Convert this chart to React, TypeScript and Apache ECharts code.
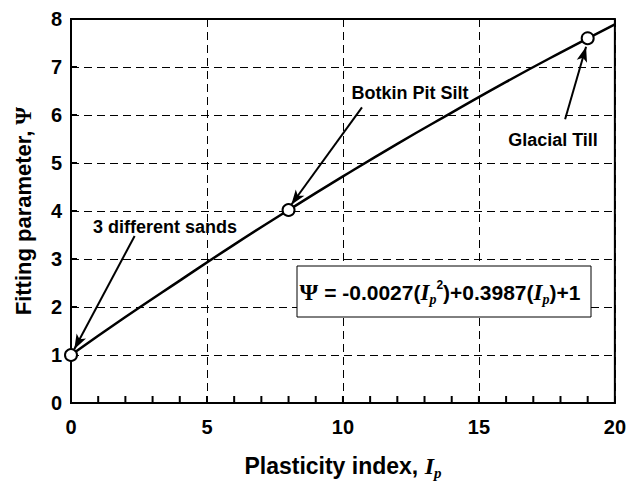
import React, { useEffect, useRef } from "react";
import * as echarts from "echarts";

const curveX = [0, 2, 4, 6, 8, 10, 12, 14, 16, 18, 20];
const curveY = [1.0, 1.79, 2.55, 3.3, 4.02, 4.72, 5.4, 6.05, 6.69, 7.3, 7.89];
const pointX = [0, 8, 19];
const pointY = [1.0, 4.02, 7.6];
const annotations = ["3 different sands", "Botkin Pit Silt", "Glacial Till"];
const arrowFrom = [[2.34, 3.48], [10.7, 6.16], [18.17, 5.91]];
const arrowTo = [[0.12, 1.12], [8.1, 4.13], [18.94, 7.42]];
const xMinorTicks = [1, 2, 3, 4, 5, 6, 7, 8, 9, 10, 11, 12, 13, 14, 15, 16, 17, 18, 19];
const yMajorTicks = [1, 2, 3, 4, 5, 6, 7];

export default function App() {
  const ref = useRef<HTMLDivElement>(null);
  useEffect(() => {
    document.body.style.margin = "0";
    const chart = echarts.init(ref.current!, null, { renderer: "svg" });
    const sans = "'Liberation Sans', Arial, sans-serif";
    const serif = "'Liberation Serif', 'Times New Roman', serif";
    chart.setOption({
      animation: false,
      backgroundColor: "#fff",
      grid: {
        left: 71, right: 12, top: 19, bottom: 80,
        show: true, borderColor: "#000", borderWidth: 2, backgroundColor: "transparent",
      },
      xAxis: {
        type: "value", min: 0, max: 20, interval: 5,
        axisLine: { show: true, lineStyle: { color: "#000", width: 2 } },
        axisTick: { show: false },
        splitLine: { show: true, lineStyle: { color: "#000", type: [8, 5], width: 1 } },
        axisLabel: { color: "#000", fontFamily: sans, fontWeight: "bold", fontSize: 20, margin: 14 },
        name: "{t|Plasticity index, }{i|I}{s|p}",
        nameLocation: "middle",
        nameGap: 48,
        nameTextStyle: {
          rich: {
            t: { fontFamily: sans, fontWeight: "bold", fontSize: 23, color: "#000" },
            i: { fontFamily: serif, fontWeight: "bold", fontStyle: "italic", fontSize: 24, color: "#000" },
            s: { fontFamily: serif, fontWeight: "bold", fontStyle: "italic", fontSize: 15, color: "#000", padding: [14, 0, 0, 0] },
          },
        },
      },
      yAxis: {
        type: "value", min: 0, max: 8, interval: 1,
        axisLine: { show: true, lineStyle: { color: "#000", width: 2 } },
        axisTick: { show: false },
        splitLine: { show: true, lineStyle: { color: "#000", type: [8, 5], width: 1 } },
        axisLabel: { color: "#000", fontFamily: sans, fontWeight: "bold", fontSize: 20, margin: 9 },
        name: "{t|Fitting parameter, }{g|Ψ}",
        nameLocation: "middle",
        nameGap: 36,
        nameTextStyle: {
          rich: {
            t: { fontFamily: sans, fontWeight: "bold", fontSize: 22, color: "#000" },
            g: { fontFamily: serif, fontWeight: "bold", fontSize: 23, color: "#000" },
          },
        },
      },
      series: [
        {
          type: "scatter",
          data: xMinorTicks.map((x) => [x, 0]),
          symbol: "rect",
          symbolSize: [2, 7],
          symbolOffset: [0, -3.5],
          itemStyle: { color: "#000", opacity: 1 },
          clip: false,
          silent: true,
          z: 3,
        },
        {
          type: "scatter",
          data: yMajorTicks.map((y) => [0, y]),
          symbol: "rect",
          symbolSize: [6, 2],
          symbolOffset: [3, 0],
          itemStyle: { color: "#000", opacity: 1 },
          clip: false,
          silent: true,
          z: 3,
        },
        {
          type: "line",
          data: curveX.map((x, i) => [x, curveY[i]]),
          smooth: true,
          showSymbol: false,
          lineStyle: { color: "#000", width: 2.5 },
          z: 2,
          markLine: {
            silent: true,
            symbol: ["none", "arrow"],
            symbolSize: [8, 15],
            label: { show: false },
            lineStyle: { color: "#000", width: 2, type: "solid" },
            data: arrowFrom.map((f, i) => [
              { coord: f },
              { coord: arrowTo[i] },
            ]),
          },
        },
        {
          type: "scatter",
          data: pointX.map((x, i) => [x, pointY[i]]),
          symbol: "circle",
          symbolSize: 12,
          itemStyle: { color: "#fff", borderColor: "#000", borderWidth: 2, opacity: 1 },
          z: 5,
        },
      ],
      graphic: [
        {
          type: "text", x: 165, y: 227,
          style: { text: annotations[0], fontFamily: sans, fontWeight: "bold", fontSize: 18, fill: "#000", align: "center", verticalAlign: "middle" },
        },
        {
          type: "text", x: 410, y: 93,
          style: { text: annotations[1], fontFamily: sans, fontWeight: "bold", fontSize: 18, fill: "#000", align: "center", verticalAlign: "middle" },
        },
        {
          type: "text", x: 553, y: 140,
          style: { text: annotations[2], fontFamily: sans, fontWeight: "bold", fontSize: 18, fill: "#000", align: "center", verticalAlign: "middle" },
        },
        {
          type: "rect", shape: { x: 297, y: 266, width: 294, height: 51 },
          style: { fill: "#fff", stroke: "#000", lineWidth: 1 },
          z: 10,
        },
        {
          type: "text", x: 440, y: 292, z: 11,
          style: {
            text: "{g|Ψ}{t| = -0.0027(}{i|I}{s|p}{u|2}{t|)+0.3987(}{i|I}{s|p}{t|)+1}",
            align: "center", verticalAlign: "middle",
            rich: {
              g: { fontFamily: serif, fontWeight: "bold", fontSize: 24, fill: "#000" },
              t: { fontFamily: sans, fontWeight: "bold", fontSize: 21, fill: "#000" },
              i: { fontFamily: serif, fontWeight: "bold", fontStyle: "italic", fontSize: 23, fill: "#000" },
              s: { fontFamily: serif, fontWeight: "bold", fontStyle: "italic", fontSize: 14, fill: "#000", padding: [14, 0, 0, 0] },
              u: { fontFamily: sans, fontWeight: "bold", fontSize: 12, fill: "#000", padding: [0, 0, 14, 0] },
            },
          },
        },
      ],
    });
    return () => chart.dispose();
  }, []);
  return <div ref={ref} style={{ position: "absolute", left: 0, top: 0, width: 629, height: 485 }} />;
}
